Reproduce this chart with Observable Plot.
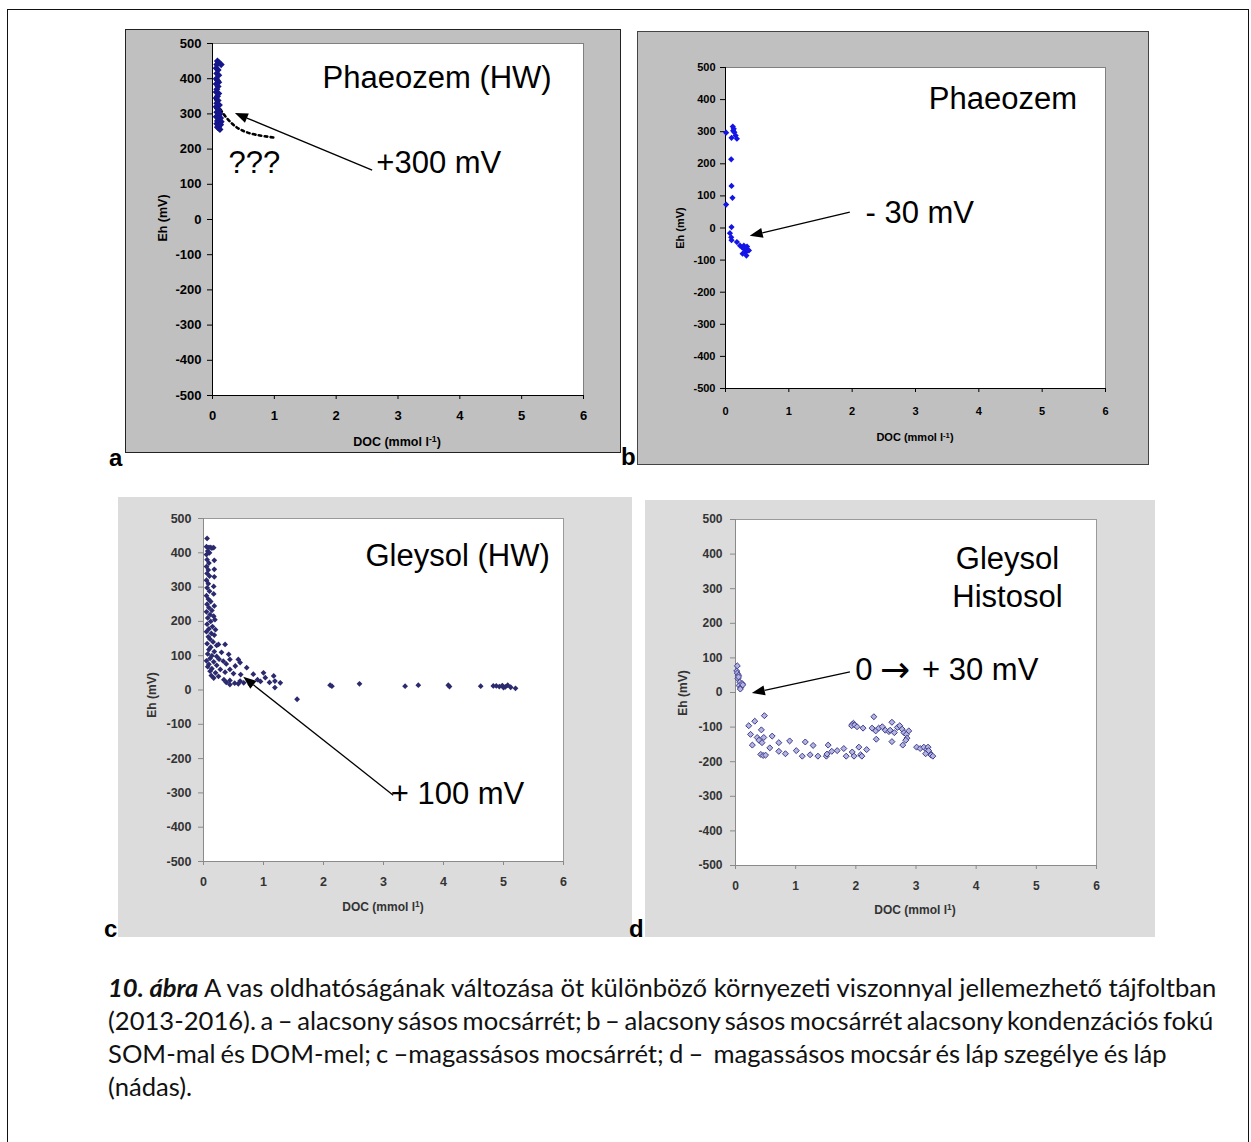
<!DOCTYPE html>
<html><head><meta charset="utf-8">
<script src="https://cdn.jsdelivr.net/npm/d3@7"></script>
<script src="https://cdn.jsdelivr.net/npm/@observablehq/plot@0.6"></script>
<style>
body{margin:0;background:#fff;}
#fig{position:relative;width:1251px;height:1142px;overflow:hidden;font-family:'Liberation Sans',Arial,sans-serif;}
.outer{position:absolute;left:7px;top:9px;width:1242px;height:1160px;border:1.5px solid #111;box-sizing:border-box;}
.panel{position:absolute;}
.panel svg{display:block;}
.ttl{position:absolute;font-weight:bold;white-space:nowrap;transform:translate(-50%,-50%);}
.ttl sup{font-size:70%;vertical-align:0;position:relative;top:-0.45em;}
.ytl{position:absolute;font-weight:bold;white-space:nowrap;transform:translate(-50%,-50%) rotate(-90deg);}
.plab{position:absolute;font-weight:bold;font-size:24px;line-height:24px;}
#cap{position:absolute;left:108px;top:971px;font-family:Lato,'Open Sans',sans-serif;font-size:25.6px;line-height:33px;color:#111;white-space:nowrap;}
#cap div{white-space:pre;}
</style></head>
<body><div id="fig"><div class="outer"></div></div>
<script>
// ---- data (DOC mmol/l, Eh mV) ----
const docTicks = [0, 1, 2, 3, 4, 5, 6];
const ehTicks = [-500, -400, -300, -200, -100, 0, 100, 200, 300, 400, 500];

const pointsA = [[0.08,450],[0.10,446],[0.14,440],[0.07,440],[0.06,430],[0.09,425],[0.07,415],[0.10,410],[0.06,400],[0.08,395],[0.10,390],[0.06,385],[0.09,378],[0.07,370],[0.06,362],[0.10,358],[0.08,350],[0.06,345],[0.09,338],[0.07,330],[0.11,325],[0.06,320],[0.08,315],[0.10,310],[0.07,305],[0.12,300],[0.09,296],[0.06,292],[0.13,288],[0.10,285],[0.08,280],[0.14,278],[0.11,275],[0.07,272],[0.12,268],[0.09,265],[0.10,260],[0.12,256],[0.08,262],[0.13,270]];

const pointsB = [[0.01,297],[0.115,316],[0.13,309],[0.12,303],[0.095,281],[0.14,298],[0.16,288],[0.18,278],[0.09,214],[0.095,131],[0.11,94],[0.01,73],[0.095,3],[0.07,-16],[0.09,-29],[0.095,-38],[0.18,-44],[0.23,-55],[0.26,-60],[0.29,-65],[0.29,-55],[0.32,-75],[0.33,-86],[0.34,-70],[0.34,-58],[0.37,-70],[0.27,-80]];

const pointsC = [[0.06,442],[0.05,418],[0.08,415],[0.11,416],[0.14,414],[0.17,415],[0.07,405],[0.10,400],[0.05,395],[0.18,378],[0.06,380],[0.09,370],[0.05,360],[0.18,352],[0.08,350],[0.06,340],[0.10,332],[0.18,330],[0.05,320],[0.08,310],[0.17,302],[0.06,298],[0.10,288],[0.17,280],[0.05,275],[0.08,265],[0.12,258],[0.06,250],[0.18,245],[0.09,240],[0.14,232],[0.05,228],[0.11,220],[0.17,215],[0.07,210],[0.19,205],[0.12,200],[0.06,192],[0.15,185],[0.09,178],[0.20,176],[0.05,170],[0.13,165],[0.18,160],[0.08,155],[0.11,148],[0.16,140],[0.06,135],[0.22,130],[0.25,133],[0.12,125],[0.09,118],[0.18,112],[0.30,110],[0.07,105],[0.14,100],[0.22,98],[0.36,133],[0.11,92],[0.26,90],[0.42,104],[0.05,85],[0.17,82],[0.33,84],[0.44,89],[0.58,89],[0.09,75],[0.22,72],[0.38,76],[0.53,70],[0.61,80],[0.07,68],[0.14,62],[0.28,60],[0.44,60],[0.72,65],[0.11,55],[0.20,50],[0.36,52],[0.50,48],[0.62,45],[0.83,46],[1.0,50],[0.13,42],[0.17,35],[0.25,40],[0.34,30],[0.44,28],[0.52,20],[0.61,26],[0.67,21],[0.78,16],[0.44,16],[0.38,22],[0.58,18],[0.90,30],[1.03,36],[1.17,41],[1.19,26],[1.28,21],[1.19,7],[1.10,22],[0.95,25],[1.56,-27],[2.11,14],[2.14,11],[2.60,18],[3.36,11],[3.58,14],[4.08,14],[4.10,10],[4.62,11],[4.83,12],[4.88,12],[4.93,10],[4.98,13],[5.03,9],[5.07,14],[5.12,8],[5.20,5],[5.00,7]];

const pointsD = [[0.03,77],[0.02,62],[0.03,56],[0.05,50],[0.04,40],[0.07,30],[0.06,20],[0.09,15],[0.11,26],[0.08,10],[0.12,22],[0.05,45],[0.22,-96],[0.32,-83],[0.48,-67],[0.25,-121],[0.36,-130],[0.28,-152],[0.39,-138],[0.44,-145],[0.43,-108],[0.47,-130],[0.42,-179],[0.46,-182],[0.50,-181],[0.57,-160],[0.61,-126],[0.72,-145],[0.72,-170],[0.83,-177],[0.90,-140],[1.01,-168],[1.11,-184],[1.16,-143],[1.29,-153],[1.24,-180],[1.37,-184],[1.51,-184],[1.54,-152],[1.52,-178],[1.60,-170],[1.69,-168],[1.80,-162],[1.84,-184],[1.94,-172],[1.97,-184],[1.96,-89],[1.94,-92],[1.93,-96],[1.98,-94],[2.02,-99],[2.05,-158],[2.08,-180],[2.10,-184],[2.18,-165],[2.12,-103],[2.30,-70],[2.27,-103],[2.33,-111],[2.34,-135],[2.38,-103],[2.44,-99],[2.49,-109],[2.55,-113],[2.57,-109],[2.60,-86],[2.60,-142],[2.64,-116],[2.69,-101],[2.73,-96],[2.77,-106],[2.78,-152],[2.80,-116],[2.84,-121],[2.85,-132],[2.88,-111],[2.83,-138],[3.01,-158],[3.07,-162],[3.13,-158],[3.18,-165],[3.20,-158],[3.23,-175],[3.25,-181],[3.28,-184],[3.16,-177],[3.21,-168]];

// annotations (data coordinates)
const curveA = [[0.04,343],[0.157,305],[0.32,272],[0.48,253],[0.70,241],[1.02,232]];
const labelsA = [{x:1.78,y:403,t:"Phaeozem (HW)"},{x:0.26,y:159,t:"???"},{x:2.65,y:159,t:"+300 mV"}];
const arrowsA = [{x1:2.59,y1:139,x2:0.37,y2:301}];
const labelsB = [{x:3.21,y:403,t:"Phaeozem"},{x:2.21,y:48,t:"- 30 mV"}];
const arrowsB = [{x1:1.97,y1:48,x2:0.39,y2:-26}];
const labelsC = [{x:2.70,y:389,t:"Gleysol (HW)"},{x:3.12,y:-302,t:"+ 100 mV"}];
const arrowsC = [{x1:3.17,y1:-308,x2:0.67,y2:37}];
const labelsD = [{x:4.52,y:387,t:"Gleysol",a:"middle"},{x:4.52,y:275,t:"Histosol",a:"middle"},{x:1.99,y:64,t:"0"},{x:2.40,y:64,t:"\u2192",f:"'DejaVu Sans', sans-serif",s:36},{x:3.10,y:64,t:"+ 30 mV"}];
const arrowsD = [{x1:1.91,y1:58,x2:0.28,y2:-3}];

function arrowMark(list) {
  return (index, scales) => {
    const g = d3.create("svg:g");
    for (const a of list) {
      const x1 = scales.x(a.x1), y1 = scales.y(a.y1), x2 = scales.x(a.x2), y2 = scales.y(a.y2);
      const ang = Math.atan2(y2 - y1, x2 - x1), L = 13, W = 5;
      const bx = x2 - L * Math.cos(ang), by = y2 - L * Math.sin(ang);
      g.append("line").attr("x1", x1).attr("y1", y1).attr("x2", bx).attr("y2", by)
        .attr("stroke", "#000").attr("stroke-width", 1.3);
      g.append("path").attr("d", `M${x2},${y2}L${bx + W*Math.sin(ang)},${by - W*Math.cos(ang)}L${bx - W*Math.sin(ang)},${by + W*Math.cos(ang)}Z`)
        .attr("fill", "#000");
    }
    return g.node();
  };
}

const fig = document.getElementById("fig");

function panel(c) {
  const div = document.createElement("div");
  div.className = "panel";
  const bw = c.border ? 1 : 0;
  div.style.left = (c.left - bw) + "px";
  div.style.top = (c.top - bw) + "px";
  if (c.border) div.style.border = c.border;
  const marks = [
    Plot.frame({fill: "white", stroke: c.frameStroke}),
    Plot.axisX({ticks: docTicks, tickFormat: d => `${d}`, tickSize: 4, tickPadding: c.xPad, label: null, stroke: c.axisColor}),
    Plot.axisY({ticks: ehTicks, tickFormat: d => `${d}`, tickSize: 5, tickPadding: c.yPad, label: null, stroke: c.axisColor}),
    Plot.ruleX([0], {stroke: c.axisColor}),
    Plot.ruleY([-500], {stroke: c.axisColor}),
  ];
  if (c.curve) marks.push(Plot.line(c.curve, {x: d => d[0], y: d => d[1], curve: "natural", stroke: "#000", strokeWidth: 2.6, strokeDasharray: "2.6,3.4"}));
  marks.push(Plot.dot(c.points, {x: d => d[0], y: d => d[1], symbol: "diamond2", r: c.r, fill: c.fill, stroke: c.stroke || "none", strokeWidth: 1}));
  for (const l of c.labels) {
    marks.push(Plot.text([l], {x: "x", y: "y", text: "t", textAnchor: l.a || "start", fontSize: l.s || 31, fontWeight: "normal", fill: "#000", fontFamily: l.f || "'Liberation Sans', Arial, sans-serif"}));
  }
  marks.push(arrowMark(c.arrows));
  const svg = Plot.plot({
    width: c.w, height: c.h,
    marginLeft: c.ml, marginRight: c.mr, marginTop: c.mt, marginBottom: c.mb,
    x: {domain: [0, 6]},
    y: {domain: [-500, 500]},
    style: {background: c.bg, fontFamily: "'Liberation Sans', Arial, sans-serif", fontSize: c.fs + "px", fontWeight: "bold", color: c.tickColor, overflow: "visible"},
    marks
  });
  div.appendChild(svg);
  fig.appendChild(div);
  const xt = document.createElement("div");
  xt.className = "ttl";
  xt.style.left = c.xTitle[0] + "px"; xt.style.top = c.xTitle[1] + "px";
  xt.style.fontSize = c.tfs + "px"; xt.style.color = c.tickColor;
  xt.innerHTML = `DOC (mmol l<sup>${c.sup}</sup>)`;
  fig.appendChild(xt);
  const yt = document.createElement("div");
  yt.className = "ytl";
  yt.style.left = c.yTitle[0] + "px"; yt.style.top = c.yTitle[1] + "px";
  yt.style.fontSize = c.tfs + "px"; yt.style.color = c.tickColor;
  yt.textContent = "Eh (mV)";
  fig.appendChild(yt);
  const pl = document.createElement("div");
  pl.className = "plab";
  pl.style.left = c.plab[0] + "px"; pl.style.top = c.plab[1] + "px";
  pl.textContent = c.name;
  fig.appendChild(pl);
}

panel({name: "a", left: 126, top: 30, w: 494, h: 422, border: "1px solid #222", bg: "#c0c0c0",
  ml: 86, mr: 37, mt: 13, mb: 57, fs: 13, xPad: 11, yPad: 6, tfs: 12.5,
  tickColor: "#000", axisColor: "#000", frameStroke: "#808080",
  points: pointsA, r: 3.2, fill: "#15158c", curve: curveA, labels: labelsA, arrows: arrowsA,
  xTitle: [397, 442], yTitle: [163, 218], sup: "-1", plab: [109, 446]});

panel({name: "b", left: 638, top: 32, w: 510, h: 432, border: "1px solid #444", bg: "#c0c0c0",
  ml: 87, mr: 43, mt: 35, mb: 76, fs: 11, xPad: 15, yPad: 5, tfs: 11,
  tickColor: "#000", axisColor: "#000", frameStroke: "#808080",
  points: pointsB, r: 2.8, fill: "#1414e6", labels: labelsB, arrows: arrowsB,
  xTitle: [915, 437], yTitle: [680, 228], sup: "-1", plab: [621, 445]});

panel({name: "c", left: 118, top: 497, w: 514, h: 440, bg: "#dcdcdc",
  ml: 85, mr: 69, mt: 21, mb: 76, fs: 12.5, xPad: 12, yPad: 7, tfs: 12,
  tickColor: "#333", axisColor: "#8a8a8a", frameStroke: "#9a9a9a",
  points: pointsC, r: 2.6, fill: "#2b2a6e", labels: labelsC, arrows: arrowsC,
  xTitle: [383, 907], yTitle: [152, 695], sup: "1", plab: [104, 917]});

panel({name: "d", left: 645, top: 500, w: 510, h: 437, bg: "#dcdcdc",
  ml: 90, mr: 59, mt: 19, mb: 72, fs: 12, xPad: 12, yPad: 8, tfs: 12,
  tickColor: "#333", axisColor: "#8a8a8a", frameStroke: "#9a9a9a",
  points: pointsD, r: 2.7, fill: "#b4b4de", stroke: "#3d3d8f", labels: labelsD, arrows: arrowsD,
  xTitle: [915, 910], yTitle: [683, 693], sup: "1", plab: [629, 917]});

const captionLines = [
  "A vas oldhatóságának változása öt különböző környezeti viszonnyal jellemezhető tájfoltban",
  "(2013-2016). a – alacsony sásos mocsárrét; b – alacsony sásos mocsárrét alacsony kondenzációs fokú",
  "SOM-mal és DOM-mel; c –magassásos mocsárrét; d –  magassásos mocsár és láp szegélye és láp",
  "(nádas)."
];
const captionSpacing = ["0px", "-2px", "-1.4px", "0px"];
const cap = document.createElement("div");
cap.id = "cap";
captionLines.forEach((line, i) => {
  const ln = document.createElement("div");
  ln.style.wordSpacing = captionSpacing[i];
  if (i === 0) {
    const b = document.createElement("b");
    const it = document.createElement("i");
    it.textContent = "10. ábra";
    b.appendChild(it);
    ln.appendChild(b);
    ln.appendChild(document.createTextNode(" " + line));
  } else {
    ln.textContent = line;
  }
  cap.appendChild(ln);
});
fig.appendChild(cap);
</script></body></html>
